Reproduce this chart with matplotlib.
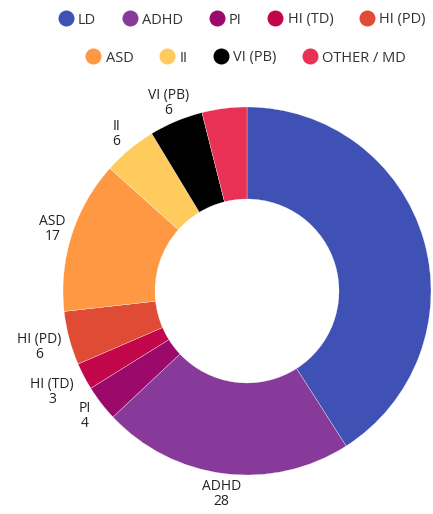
import numpy as np
import matplotlib
matplotlib.use("Agg")
import matplotlib.pyplot as plt
from matplotlib.lines import Line2D

categories = ["LD", "ADHD", "PI", "HI (TD)", "HI (PD)", "ASD", "II", "VI (PB)", "OTHER / MD"]
values = [52, 28, 4, 3, 6, 17, 6, 6, 5]
colors = ["#3f51b5", "#883a9a", "#9b0a6b", "#c2064a", "#e04b35",
          "#ff9842", "#ffcb5c", "#000000", "#e93055"]
# labels the reference leaves out (overlap)
hidden_labels = ["OTHER / MD"]

W, H = 433, 514
fig = plt.figure(figsize=(W / 100, H / 100), dpi=100)
ax = fig.add_axes([0, 0, 1, 1])

cx, cy, R = 247, H - 291, 184
width = 92
wedges, _ = ax.pie(values, colors=colors, startangle=90, counterclock=False,
                   center=(cx, cy), radius=R, frame=True,
                   wedgeprops=dict(width=width, edgecolor="white", linewidth=0.2))
ax.set_xlim(0, W)
ax.set_ylim(0, H)
ax.set_aspect("equal")
ax.axis("off")

font = "Open Sans"
label_r = R * 1.11
nudge = {"HI (PD)": (-10, -4), "HI (TD)": (-14, -6)}
for w, cat, v in zip(wedges, categories, values):
    if cat in hidden_labels:
        continue
    ang = np.deg2rad((w.theta1 + w.theta2) / 2)
    x = cx + label_r * np.cos(ang)
    y = cy + label_r * np.sin(ang)
    dx, dy = nudge.get(cat, (0, 0))
    ax.text(x + dx, y + dy, f"{cat}\n{v}", ha="center", va="center",
            fontsize=10, color="#222222", family=font, linespacing=1.0)

def handles(idx):
    return [Line2D([0], [0], marker="o", linestyle="none", markersize=10.5,
                   markerfacecolor=colors[i], markeredgecolor=colors[i]) for i in idx]

row1 = [0, 1, 2, 3, 4]
row2 = [5, 6, 7, 8]
common = dict(frameon=False, handletextpad=0.35, columnspacing=1.8,
              prop={"family": font, "size": 10.5}, labelcolor="#333333",
              handlelength=1.0, borderaxespad=0)
leg1 = fig.legend(handles(row1), [categories[i] for i in row1], ncol=5,
                  loc="center", bbox_to_anchor=(242 / W, 1 - 20 / H), **common)
leg2 = fig.legend(handles(row2), [categories[i] for i in row2], ncol=4,
                  loc="center", bbox_to_anchor=(246 / W, 1 - 58 / H), **common)

fig.savefig("out.png", dpi=100)
